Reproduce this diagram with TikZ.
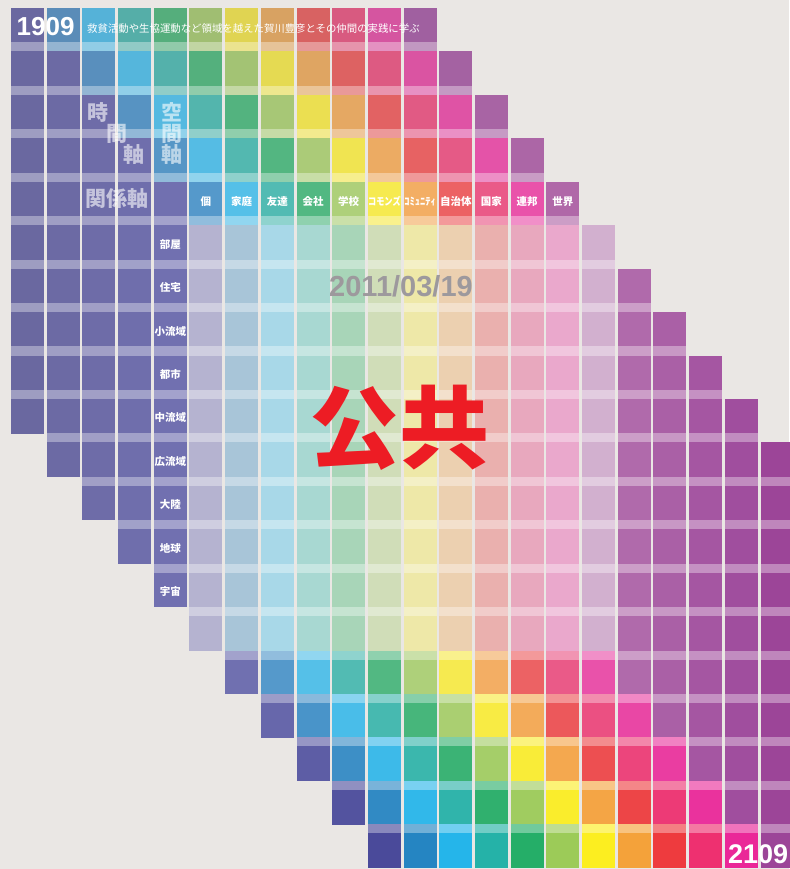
\documentclass[tikz,border=0pt]{standalone}
\usepackage{fontspec}
\setmainfont{Liberation Sans}
\newfontfamily\cjk{Noto Sans CJK JP}
\definecolor{bgc}{HTML}{EAE7E4}
% top row palette
\definecolor{cT0}{HTML}{6B68A0}\definecolor{cT1}{HTML}{5A8CB8}\definecolor{cT2}{HTML}{55B2D8}
\definecolor{cT3}{HTML}{55AEA8}\definecolor{cT4}{HTML}{55AE7C}\definecolor{cT5}{HTML}{A0BE72}
\definecolor{cT6}{HTML}{E0D452}\definecolor{cT7}{HTML}{D8A262}\definecolor{cT8}{HTML}{D86262}
\definecolor{cT9}{HTML}{D85A80}\definecolor{cT10}{HTML}{D555A0}\definecolor{cT11}{HTML}{A060A0}
% middle palette
\definecolor{cM0}{HTML}{7070B0}\definecolor{cM1}{HTML}{5599CB}\definecolor{cM2}{HTML}{55C0E8}
\definecolor{cM3}{HTML}{52BBB3}\definecolor{cM4}{HTML}{52B882}\definecolor{cM5}{HTML}{AED07A}
\definecolor{cM6}{HTML}{F6EA50}\definecolor{cM7}{HTML}{F3AE64}\definecolor{cM8}{HTML}{EC6264}
\definecolor{cM9}{HTML}{EA5A88}\definecolor{cM10}{HTML}{E952AA}\definecolor{cM11}{HTML}{B068A8}
% bottom palette
\definecolor{cB0}{HTML}{4A4A9A}\definecolor{cB1}{HTML}{2585C2}\definecolor{cB2}{HTML}{25B5EA}
\definecolor{cB3}{HTML}{25B2A8}\definecolor{cB4}{HTML}{25AE68}\definecolor{cB5}{HTML}{9CCB58}
\definecolor{cB6}{HTML}{FCEE20}\definecolor{cB7}{HTML}{F4A23A}\definecolor{cB8}{HTML}{EE3B3E}
\definecolor{cB9}{HTML}{EE3070}\definecolor{cB10}{HTML}{EA2898}\definecolor{cB11}{HTML}{9C4598}
% left purples
\definecolor{cP0}{HTML}{6A68A0}\definecolor{cP1}{HTML}{6C6AA4}\definecolor{cP2}{HTML}{6E6CA8}
\definecolor{cP3}{HTML}{6F6EAC}\definecolor{cP4}{HTML}{7170B0}
% pastels
\definecolor{cQ5}{HTML}{B5B3D0}\definecolor{cQ6}{HTML}{A8C5D8}\definecolor{cQ7}{HTML}{A8D8E8}
\definecolor{cQ8}{HTML}{A8D8D2}\definecolor{cQ9}{HTML}{A8D5B8}\definecolor{cQ10}{HTML}{D0DDB8}
\definecolor{cQ11}{HTML}{EEE8A8}\definecolor{cQ12}{HTML}{ECD0B0}\definecolor{cQ13}{HTML}{EAB0AE}
\definecolor{cQ14}{HTML}{E8A8BE}\definecolor{cQ15}{HTML}{EAA8CC}\definecolor{cQ16}{HTML}{D2B0CF}
% right violets
\definecolor{cV17}{HTML}{B06AAB}\definecolor{cV18}{HTML}{AA60A6}\definecolor{cV19}{HTML}{A556A2}
\definecolor{cV20}{HTML}{A04E9E}\definecolor{cV21}{HTML}{9C4598}
\definecolor{datec}{HTML}{9D999D}
\definecolor{redc}{HTML}{ED1C24}
\newcommand\mkcol[3]{%
  \pgfmathtruncatemacro\ci{#1}\pgfmathtruncatemacro\ck{#2}%
  \ifnum\ck<5\relax
    \pgfmathtruncatemacro\ch{\ci-\ck}%
    \ifnum\ch<1\relax \colorlet{#3}{cP\ci}%
    \else \pgfmathtruncatemacro\ct{100*\ck/4}\colorlet{#3}{cM\ch!\ct!cT\ch}\fi
  \else\ifnum\ck<15\relax
    \ifnum\ci<5\relax \colorlet{#3}{cP\ci}%
    \else\ifnum\ci<17\relax \colorlet{#3}{cQ\ci}%
    \else \colorlet{#3}{cV\ci}\fi\fi
  \else
    \pgfmathtruncatemacro\ch{\ci-\ck+9}%
    \ifnum\ch>10\relax \colorlet{#3}{cV\ci}%
    \else \pgfmathtruncatemacro\ct{100*(\ck-15)/4}\colorlet{#3}{cB\ch!\ct!cM\ch}\fi
  \fi\fi}
\begin{document}
\begin{tikzpicture}[x=1pt,y=-1pt,
  lab/.style={text=white, font=\cjk\bfseries\fontsize{10.5}{12}\selectfont, inner sep=0pt},
  axislab/.style={text=white, text opacity=0.6, font=\cjk\bfseries\fontsize{21}{24}\selectfont, inner sep=0pt}]
\fill[bgc] (0,0) rectangle (789,869);
\useasboundingbox (0,0) rectangle (789,869);
\foreach \i in {0,...,21}{
  \pgfmathtruncatemacro\ks{max(0,\i-11)}
  \pgfmathtruncatemacro\ke{min(19,\i+9)}
  \pgfmathsetmacro\xl{11+35.69*\i}
  \foreach \k in {\ks,...,\ke}{
    \pgfmathsetmacro\yt{8+43.44*\k}
    \mkcol{\i}{\k}{cc}
    \fill[cc] (\xl,\yt) rectangle ++(33,34.6);
    \ifnum\k<\ke\relax
      \pgfmathtruncatemacro\kn{\k+1}
      \ifnum\kn<15\relax
        \colorlet{bb}{cc!65!white}
      \else
        \mkcol{\i}{\kn}{dd}\colorlet{bb}{dd!65!white}
      \fi
      \fill[bb] (\xl,\yt+34.4) rectangle (\xl+33,\yt+43.6);
    \fi
  }
}
% header labels
\foreach \t [count=\n from 5] in {個,家庭,友達,会社,学校,{\scalebox{0.78}[1]{コモンズ}},ｺﾐｭﾆﾃｨ,自治体,国家,連邦,世界}{
  \pgfmathsetmacro\xc{11+35.69*\n+16.5}
  \node[lab] (h\n) at (\xc,201.5) {\t};
}
% row labels
\foreach \t [count=\n from 5] in {部屋,住宅,小流域,都市,中流域,広流域,大陸,地球,宇宙}{
  \pgfmathsetmacro\yc{8+43.44*\n+19}
  \node[lab] (r\n) at (170.3,\yc) {\t};
}
% axis labels
\node[axislab] (ta1) at (98,112.5) {時};
\node[axislab] (ta2) at (117,134) {間};
\node[axislab] (ta3) at (134,155) {軸};
\node[axislab] (sa1) at (171.5,112.5) {空};
\node[axislab] (sa2) at (171.5,133.5) {間};
\node[axislab] (sa3) at (171.5,155) {軸};
\node[axislab] (ra) at (116.5,199) {関係軸};
% years and title
\node[anchor=base west, inner sep=0pt, text=white, font=\bfseries\fontsize{26}{28}\selectfont] (y1) at (16.5,36) {1909};
\node[anchor=base west, inner sep=0pt, text=white, font=\bfseries\fontsize{27}{29}\selectfont] (y2) at (728,863) {2109};
\node[anchor=west, inner sep=0pt, text=white, font=\cjk\fontsize{10.4}{12}\selectfont] (title) at (87,28.5) {救貧活動や生協運動など領域を越えた賀川豊彦とその仲間の実践に学ぶ};
% date and big word
\node[anchor=base, inner sep=0pt, text=datec, font=\bfseries\fontsize{29}{31}\selectfont] (date) at (401,296) {2011/03/19};
\node[inner sep=0pt, text=redc, font=\cjk\bfseries\fontsize{90}{96}\selectfont] (kk) at (399,428) {公共};
\end{tikzpicture}
\end{document}
